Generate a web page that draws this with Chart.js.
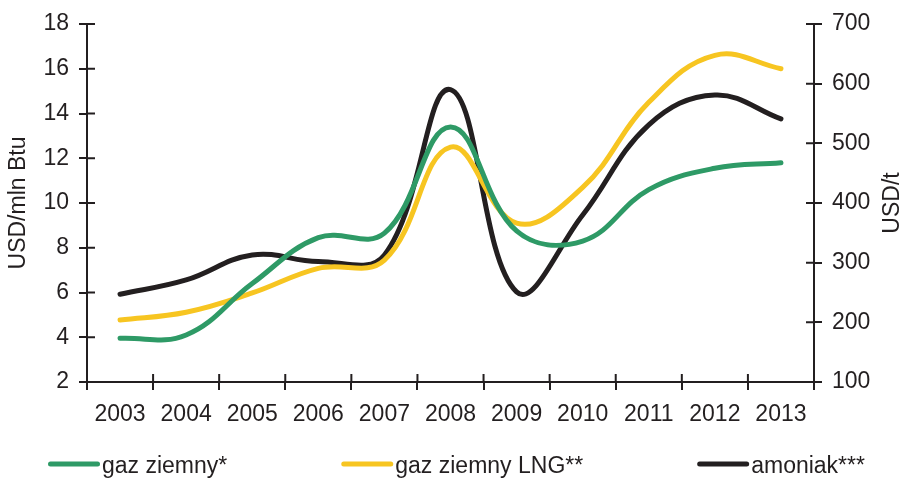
<!DOCTYPE html>
<html>
<head>
<meta charset="utf-8">
<script src="https://cdn.jsdelivr.net/npm/chart.js@4/dist/chart.umd.min.js"></script>
<style>
  html, body { margin: 0; padding: 0; background: #fff; }
  #wrap { width: 903px; height: 479px; position: relative; }
</style>
</head>
<body>
<div id="wrap"><canvas id="myChart"></canvas></div>
<script>
const years = ['2003','2004','2005','2006','2007','2008','2009','2010','2011','2012','2013'];
const gasNatural = [3.95, 4.1, 6.4, 8.45, 8.65, 13.4, 8.75, 8.3, 10.6, 11.55, 11.8];
const gasLNG = [4.77, 5.12, 5.98, 7.08, 7.45, 12.5, 9.1, 10.7, 14.5, 16.6, 16.0];
const ammonia = [247, 271, 313, 302, 313, 590, 251, 380, 531, 581, 541];

const AXIS = '#231f20';
const FONT = "'Liberation Sans', Arial, sans-serif";

// inner halves of the tick marks, axis titles and the legend row
const extras = {
	id: 'extras',
	beforeDatasetsDraw(chart) {
		const { ctx, chartArea: a, scales } = chart;
		ctx.save();
		ctx.strokeStyle = AXIS;
		ctx.lineWidth = 2;
		ctx.beginPath();
		scales.y.ticks.forEach((t, i) => {
			const y = scales.y.getPixelForTick(i);
			ctx.moveTo(a.left, y); ctx.lineTo(a.left + 8, y);
		});
		scales.y1.ticks.forEach((t, i) => {
			const y = scales.y1.getPixelForTick(i);
			ctx.moveTo(a.right - 8, y); ctx.lineTo(a.right, y);
		});
		const half = (scales.x.getPixelForTick(1) - scales.x.getPixelForTick(0)) / 2;
		for (let i = 0; i <= years.length; i++) {
			const x = scales.x.getPixelForTick(0) - half + i * half * 2;
			ctx.moveTo(x, a.bottom - 8); ctx.lineTo(x, a.bottom);
		}
		ctx.stroke();
		ctx.restore();
	},
	afterDraw(chart) {
		const { ctx, chartArea: a } = chart;
		const midY = (a.top + a.bottom) / 2;
		ctx.save();
		ctx.fillStyle = AXIS;
		ctx.font = '23px ' + FONT;
		ctx.textAlign = 'center';
		ctx.textBaseline = 'middle';
		ctx.translate(19, midY);
		ctx.rotate(-Math.PI / 2);
		ctx.fillText('USD/mln Btu', 0, 0);
		ctx.restore();

		ctx.save();
		ctx.fillStyle = AXIS;
		ctx.font = '23px ' + FONT;
		ctx.textAlign = 'center';
		ctx.textBaseline = 'middle';
		ctx.translate(893, midY);
		ctx.rotate(-Math.PI / 2);
		ctx.fillText('USD/t', 0, 0);
		ctx.restore();

		// legend
		ctx.save();
		ctx.font = '23px ' + FONT;
		ctx.textBaseline = 'alphabetic';
		ctx.lineCap = 'round';
		let x = 48;
		chart.data.datasets.forEach(ds => {
			ctx.strokeStyle = ds.borderColor;
			ctx.lineWidth = 5;
			ctx.beginPath();
			ctx.moveTo(x + 2.5, 464); ctx.lineTo(x + 49.5, 464);
			ctx.stroke();
			ctx.fillStyle = AXIS;
			ctx.fillText(ds.label, x + 54, 473);
			x += 54 + ctx.measureText(ds.label).width + 114;
		});
		ctx.restore();
	}
};

const ctx = document.getElementById('myChart').getContext('2d');
new Chart(ctx, {
	type: 'line',
	data: {
		labels: years,
		datasets: [
			{ label: 'gaz ziemny*', data: gasNatural, yAxisID: 'y', borderColor: '#2e9a66' },
			{ label: 'gaz ziemny LNG**', data: gasLNG, yAxisID: 'y', borderColor: '#f7c521' },
			{ label: 'amoniak***', data: ammonia, yAxisID: 'y1', borderColor: '#231f20' }
		]
	},
	options: {
		responsive: true,
		maintainAspectRatio: false,
		animation: false,
		layout: { padding: { top: 24, left: 0, right: 0, bottom: 0 } },
		elements: {
			line: { borderWidth: 5, tension: 0.4, borderCapStyle: 'round', borderJoinStyle: 'round' },
			point: { radius: 0, hoverRadius: 0 }
		},
		plugins: {
			legend: { display: false },
			tooltip: { enabled: false }
		},
		scales: {
			x: {
				offset: true,
				grid: { offset: true, drawOnChartArea: false, color: AXIS, lineWidth: 2, tickLength: 8 },
				border: { color: AXIS, width: 2 },
				ticks: { color: AXIS, font: { family: FONT, size: 23 }, padding: 11, maxRotation: 0 },
				afterFit(s) { s.height = 97; }
			},
			y: {
				position: 'left',
				min: 2, max: 18,
				ticks: { stepSize: 2, color: AXIS, font: { family: FONT, size: 23 }, padding: 10 },
				grid: { drawOnChartArea: false, color: AXIS, lineWidth: 2, tickLength: 8 },
				border: { color: AXIS, width: 2 },
				afterFit(s) { s.width = 87; }
			},
			y1: {
				position: 'right',
				min: 100, max: 700,
				ticks: { stepSize: 100, color: AXIS, font: { family: FONT, size: 23 }, padding: 10 },
				grid: { drawOnChartArea: false, color: AXIS, lineWidth: 2, tickLength: 8 },
				border: { color: AXIS, width: 2 },
				afterFit(s) { s.width = 89; }
			}
		}
	},
	plugins: [extras]
});
</script>
</body>
</html>
